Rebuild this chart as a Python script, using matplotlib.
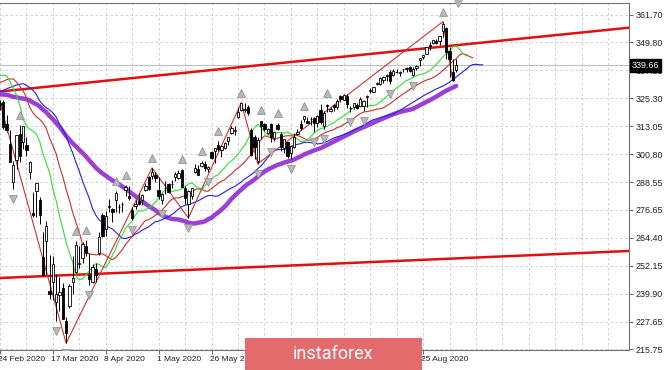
import numpy as np
import pandas as pd
import matplotlib
matplotlib.use('Agg')
import matplotlib.pyplot as plt
from matplotlib.patches import Rectangle

# closes before the visible window, only used to warm up the averages
hist_close = [311.6, 309.6, 311.5, 312.0, 314.9, 313.9, 313.5, 314.4, 317.1, 317.3, 319.5,
              319.6, 319.6, 320.9, 320.7, 321.2, 321.2, 322.9, 322.9, 321.1, 321.9,
              324.9, 322.4, 323.6, 322.7, 324.5, 326.6, 325.7, 327.9, 327.5, 328.2, 331.0,
              332.0, 331.3, 331.3, 331.7, 328.8, 323.5, 326.9, 326.6, 327.7, 321.7]

# daily bars, Feb 3 .. Sep 9 2020
opens = [323.4, 327.0, 332.3, 333.2, 332.8, 331.2, 336.2, 336.8, 335.9, 337.5, 336.5, 337.8, 337.7, 335.5, 323.1, 323.9, 314.2, 305.5, 288.7,
         298.2, 309.5, 306.1, 305.0, 293.1, 275.3, 284.6, 280.7, 256.0, 263.1, 241.2, 245.0, 236.3, 239.3, 242.5, 228.2, 234.4, 244.9, 249.5, 252.8, 255.7, 260.6,
         248.0, 245.2, 250.8, 257.8, 274.2, 268.0, 277.6, 277.1, 281.0, 277.6, 279.2, 285.4, 282.6, 276.7, 278.4, 280.5, 280.7, 285.1, 291.0, 291.5, 291.7,
         285.3, 280.7, 285.9, 288.0, 287.8, 291.1, 290.3, 293.8, 286.1, 279.0, 282.4, 293.1, 294.4, 295.8, 296.8, 294.6, 301.9, 302.1, 304.7, 302.5,
         303.6, 306.6, 310.2, 311.1, 317.2, 320.2, 320.3, 321.4, 311.5, 308.2, 298.0, 315.5, 314.1, 310.0, 314.2, 308.0, 313.5, 309.8, 303.5, 306.2, 301.4, 304.0,
         309.6, 314.2, 316.4, 315.4, 316.2, 316.8, 314.3, 320.1, 313.3, 322.4, 319.8, 322.4, 321.4, 326.5, 324.6, 326.5, 321.0, 321.6, 322.4, 322.1, 321.9, 325.9,
         328.3, 327.9, 331.5, 331.5, 333.3, 335.1, 336.9, 335.4, 336.6, 336.4, 337.9, 338.3, 339.1, 335.4, 338.5, 342.1, 343.5, 344.8, 348.5, 349.4, 350.4,
         350.4, 354.7, 355.9, 346.1, 336.7, 337.6]
highs = [326.2, 329.0, 333.1, 334.2, 333.0, 334.7, 337.0, 337.6, 338.1, 337.7, 337.7, 339.1, 338.8, 335.8, 324.7, 324.6, 318.1, 311.6, 297.9,
         309.2, 313.8, 313.1, 308.5, 298.0, 284.2, 288.5, 282.0, 266.7, 271.5, 256.9, 256.2, 248.4, 247.4, 244.5, 229.7, 244.1, 256.4, 262.8, 260.8, 262.4, 263.3,
         257.7, 252.7, 253.3, 267.0, 275.0, 276.0, 281.2, 277.5, 284.9, 279.3, 280.0, 287.3, 286.8, 278.0, 281.0, 283.9, 283.7, 288.3, 291.4, 294.9, 293.3,
         290.7, 283.9, 289.3, 288.5, 289.8, 293.0, 294.0, 294.2, 287.2, 285.1, 286.3, 296.8, 296.2, 297.9, 297.7, 295.6, 302.2, 303.6, 306.8, 305.0,
         306.2, 308.6, 313.2, 313.0, 321.3, 323.4, 323.3, 322.4, 312.2, 309.1, 308.3, 315.6, 314.4, 312.3, 314.4, 310.7, 314.5, 310.5, 307.6, 306.4, 304.6, 310.2,
         311.9, 315.7, 317.7, 317.1, 317.1, 317.1, 317.9, 322.7, 319.8, 323.0, 321.3, 322.6, 325.1, 326.9, 327.2, 327.2, 322.0, 323.4, 323.4, 325.7, 324.4, 326.6,
         329.6, 330.1, 332.4, 334.5, 334.9, 335.8, 337.5, 338.3, 338.3, 337.4, 338.3, 339.1, 339.6, 338.8, 339.7, 343.0, 344.2, 347.9, 349.9, 350.7, 351.3,
         352.7, 358.8, 356.4, 347.8, 342.6, 342.5]
lows = [323.2, 326.4, 330.1, 332.0, 331.6, 331.2, 334.9, 336.4, 335.6, 336.1, 335.2, 337.5, 332.9, 332.6, 320.4, 311.7, 310.7, 297.5, 285.5,
        294.5, 297.6, 303.3, 300.0, 290.0, 273.5, 273.5, 270.4, 247.7, 248.5, 237.4, 237.1, 228.0, 232.2, 228.8, 218.3, 233.8, 239.7, 249.0, 251.1, 253.5, 256.2,
        243.9, 244.6, 245.2, 257.0, 264.9, 265.3, 275.5, 271.4, 275.5, 275.0, 275.8, 282.4, 280.7, 272.0, 276.9, 278.9, 278.5, 284.6, 285.4, 290.1, 288.6,
        281.5, 279.1, 283.5, 283.8, 286.0, 289.3, 289.9, 286.5, 279.0, 273.0, 281.3, 292.7, 292.0, 295.4, 293.7, 293.1, 298.7, 296.9, 302.2, 299.5,
        303.1, 305.1, 309.9, 309.1, 316.5, 319.6, 319.4, 318.2, 300.0, 298.6, 296.7, 307.7, 310.8, 309.5, 306.4, 306.5, 311.6, 302.1, 301.2, 299.4, 298.9, 303.8,
        309.1, 311.5, 315.0, 314.4, 313.6, 310.7, 312.8, 314.1, 312.0, 319.5, 319.1, 319.9, 320.6, 323.9, 324.5, 321.1, 319.3, 320.8, 320.8, 322.1, 319.6, 321.3,
        327.7, 327.9, 331.2, 331.0, 332.2, 333.0, 331.5, 335.2, 336.2, 335.2, 336.9, 336.6, 336.6, 335.2, 337.8, 339.5, 342.3, 344.7, 346.5, 348.9, 349.1,
        348.4, 352.0, 342.6, 334.8, 332.9, 336.6]
closes = [324.1, 329.1, 332.9, 333.9, 332.2, 334.7, 335.3, 337.4, 337.1, 337.6, 336.7, 338.3, 336.9, 333.5, 322.4, 312.6, 311.5, 297.5, 296.3,
          309.1, 300.2, 313.0, 302.5, 297.5, 274.2, 288.4, 274.4, 248.1, 269.3, 239.9, 252.8, 240.0, 240.5, 228.8, 222.9, 243.2, 246.8, 261.2, 253.4, 261.7, 257.8,
          246.2, 251.8, 248.2, 264.9, 265.1, 274.0, 278.2, 275.7, 283.8, 277.8, 279.1, 286.6, 281.6, 273.0, 279.1, 279.1, 283.0, 287.1, 285.7, 293.2, 290.5,
          282.8, 283.6, 286.2, 284.3, 287.7, 292.4, 292.5, 286.7, 281.6, 285.0, 286.3, 295.0, 292.0, 296.9, 294.9, 295.4, 299.1, 303.5, 303.0, 304.3,
          305.6, 308.4, 312.2, 311.4, 319.3, 323.2, 320.8, 319.0, 300.6, 304.2, 307.1, 313.0, 311.7, 311.8, 308.6, 310.6, 312.1, 304.1, 307.4, 300.1, 304.5, 308.4,
          310.5, 312.2, 317.6, 314.4, 316.2, 314.4, 317.6, 314.8, 318.9, 321.9, 320.8, 321.7, 324.3, 325.0, 326.9, 323.0, 320.9, 323.2, 321.2, 325.1, 324.0, 326.5,
          328.8, 330.1, 332.1, 334.3, 334.6, 335.6, 332.8, 337.4, 336.8, 336.8, 337.9, 338.6, 337.2, 338.3, 339.5, 343.0, 344.1, 347.6, 348.3, 350.6, 349.3,
          352.6, 357.7, 345.4, 342.6, 333.2, 339.66]

holidays = ['2020-02-17', '2020-04-10', '2020-05-25', '2020-07-03', '2020-09-07']
dates = pd.bdate_range('2020-02-03', '2020-09-09').drop(pd.to_datetime(holidays))

price_ticks = [361.70, 349.80, 337.55, 325.30, 313.05, 300.80, 288.55, 276.65,
               264.40, 252.15, 239.90, 227.65, 215.75]
bid = 339.66

# zigzag swing points
zz_dates = ['2020-02-19', '2020-03-23', '2020-04-29', '2020-05-14',
            '2020-06-08', '2020-06-15', '2020-09-02', '2020-09-08']
zz_kind = ['H', 'L', 'H', 'L', 'H', 'L', 'H', 'L']

# hand drawn channel lines (two anchor points each)
upper_line = [('2020-03-02', 329.0), ('2020-09-02', 347.9)]
lower_line = [('2020-03-02', 247.1), ('2020-09-02', 255.1)]


o = np.array(opens); h = np.array(highs); l = np.array(lows); c = np.array(closes)
n = len(c)
idx = np.arange(n)
pos = {d: i for i, d in enumerate(dates.strftime('%Y-%m-%d'))}


def smma(values, period):
	out = np.full(len(values), np.nan)
	out[period - 1] = np.mean(values[:period])
	for k in range(period, len(values)):
		out[k] = (out[k - 1] * (period - 1) + values[k]) / period
	return out


nh = len(hist_close)
median_all = np.concatenate([hist_close, (h + l) / 2])
close_all = np.concatenate([hist_close, c])
x_all = np.arange(len(close_all)) - nh

jaw = smma(median_all, 13)
teeth = smma(median_all, 8)
lips = smma(median_all, 5)
sma50 = pd.Series(close_all).rolling(50).mean().values

W, H = 665, 370
fig = plt.figure(figsize=(W / 100, H / 100), dpi=100)
ax = fig.add_axes([0, 20 / H, 629 / W, 347 / H])

x0, x1 = 18.17, 204.3
ax.set_xlim(x0, x1)
ax.set_ylim(215.33, 366.94)

font = 'Liberation Sans'
fsize = 6.0

# grid
for v in price_ticks:
	ax.axhline(v, color='#c8c8c8', lw=0.6, ls=(0, (3, 3)), zorder=0)
for gx in np.arange(30 - 8 * 2, x1, 8):
	ax.axvline(gx, color='#c8c8c8', lw=0.6, ls=(0, (3, 3)), zorder=0)

# channel lines
for line in (upper_line, lower_line):
	(d1, p1), (d2, p2) = line
	i1, i2 = pos[d1], pos[d2]
	k = (p2 - p1) / (i2 - i1)
	xs = np.array([x0 - 5, x1 + 5])
	ax.plot(xs, p1 + k * (xs - i1), color='#e01010', lw=1.8, zorder=2)

ax.axhline(bid, color='#c0c0c0', lw=0.8, zorder=1)

# moving averages
ax.plot(x_all, sma50, color='#9b3fd6', lw=3.2, zorder=3, solid_capstyle='round')
ax.plot(x_all + 8, jaw, color='#2020ee', lw=0.8, zorder=3)
ax.plot(x_all + 5, teeth, color='#c83030', lw=0.8, zorder=3)
ax.plot(x_all + 3, lips, color='#30e030', lw=0.8, zorder=3)

# zigzag
zx = [pos[d] for d in zz_dates]
zy = [h[pos[d]] if k == 'H' else l[pos[d]] for d, k in zip(zz_dates, zz_kind)]
ax.plot(zx, zy, color='#d03030', lw=0.8, zorder=3)

# candles
up = c >= o
ax.vlines(idx, l, h, color='black', lw=0.7, zorder=4)
ax.bar(idx[up], (c - o)[up], bottom=o[up], width=0.7, color='white', edgecolor='black', lw=0.6, zorder=5)
ax.bar(idx[~up], (o - c)[~up], bottom=c[~up], width=0.7, color='black', edgecolor='black', lw=0.6, zorder=5)

# fractals
for i in range(2, n - 2):
	if h[i] > max(h[i - 2], h[i - 1], h[i + 1], h[i + 2]):
		ax.plot(i, h[i] + 4.4, marker='^', ms=6, color='#b8b8b8', mec='#8a8a8a', mew=0.5, zorder=6)
	if l[i] < min(l[i - 2], l[i - 1], l[i + 1], l[i + 2]):
		ax.plot(i, l[i] - 4.4, marker='v', ms=6, color='#b8b8b8', mec='#8a8a8a', mew=0.5, zorder=6)

# chart shift marker
ax.plot(0.728, 1.0, marker='v', ms=6, color='#b0b0b0', transform=ax.transAxes, clip_on=False, zorder=7)

# axes styling
ax.spines['left'].set_visible(False)
for s in ('top', 'right', 'bottom'):
	ax.spines[s].set_color('#707070')
	ax.spines[s].set_linewidth(0.8)

ax.yaxis.tick_right()
ax.set_yticks(price_ticks)
ax.set_yticklabels(['%.2f' % v for v in price_ticks], fontsize=fsize + 0.4, family=font, color='#202020')
ax.tick_params(axis='y', length=3, width=0.6, color='#505050', pad=2)

# watermark box in pixels
wm_left, wm_right = 245, 422

# date labels every 16 bars; the first one starts left of the window and gets cut by the edge,
# the ones fully under the watermark are not visible at all
xt = list(range(14, n, 16))
ax.set_xticks(xt)
ax.set_xticklabels([])
ax.tick_params(axis='x', length=3, width=0.6, color='#505050')
px_per_bar = 629 / (x1 - x0)
for i in xt:
	px = (i - x0) * px_per_bar
	if px > wm_left and px + 45 < wm_right:
		continue
	ax.text(i - 0.6, -0.018, dates[i].strftime('%-d %b %Y'), transform=ax.get_xaxis_transform(),
	        fontsize=fsize, family=font, color='#202020', ha='left', va='top', clip_on=False)

# current price label
ax.text(1.004, bid, '%.2f' % bid, transform=ax.get_yaxis_transform(), fontsize=fsize + 0.4, family=font,
        color='white', va='center', ha='left',
        bbox=dict(boxstyle='square,pad=0.2', fc='black', ec='black'), zorder=10, clip_on=False)

# watermark
fig.patches.append(Rectangle((wm_left / W, 0), (wm_right - wm_left) / W, 32 / H, transform=fig.transFigure,
                             facecolor='#e36b6b', edgecolor='none', zorder=20))
fig.text((wm_left + wm_right) / 2 / W, 16 / H, 'instaforex', color='white', fontsize=13, family='Roboto',
         ha='center', va='center', zorder=21)

fig.savefig('out.png', dpi=100)
